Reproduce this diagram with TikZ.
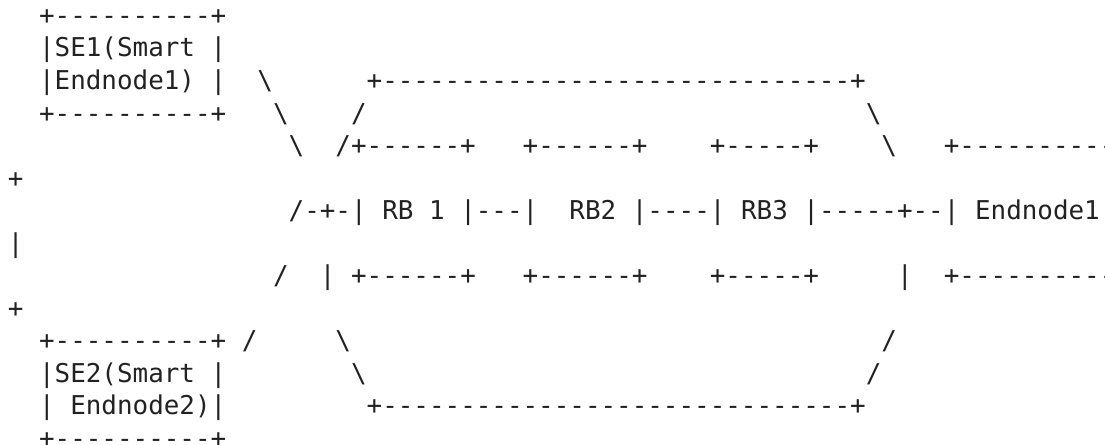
\documentclass[tikz,border=0pt]{standalone}
\usepackage{fontspec}
\setmonofont{DejaVu Sans Mono}
\definecolor{ink}{HTML}{222222}

\begin{document}
\begin{tikzpicture}[x=11.7pt,y=-24.409pt,
  asc/.style={anchor=base west,inner sep=0pt,outer sep=0pt,text=ink,
    font=\ttfamily\fontsize{19.43pt}{24.4pt}\selectfont}]
\useasboundingbox (-0.506,0.2487) rectangle (70.33,13.922);

\node (seonetop) at (2,1) [asc] {+----------+};
\node (seonea) at (2,2) [asc] {|SE1(Smart\ |};
\node (seoneb) at (2,3) [asc] {|Endnode1)\ |};
\node (seonebot) at (2,4) [asc] {+----------+};

\node (upa) at (16,3) [asc] {\textbackslash};
\node (upb) at (17,4) [asc] {\textbackslash};
\node (upc) at (18,5) [asc] {\textbackslash};
\node (upd) at (18,7) [asc] {/-+-};

\node (toptop) at (23,3) [asc] {+------------------------------+};
\node (topl) at (22,4) [asc] {/};
\node (topr) at (55,4) [asc] {\textbackslash};
\node (toprr) at (56,5) [asc] {\textbackslash};

\node (rbonetop) at (21,5) [asc] {/+------+};
\node (rbtwotop) at (33,5) [asc] {+------+};
\node (rbthreetop) at (45,5) [asc] {+-----+};
\node (endonetop) at (60,5) [asc] {+----------};

\node (wrapa) at (0,6) [asc] {+};

\node (rbone) at (22,7) [asc] {|\ RB\ 1\ |};
\node (linkab) at (30,7) [asc] {---};
\node (rbtwo) at (33,7) [asc] {|\ \ RB2\ |};
\node (linkbc) at (41,7) [asc] {----};
\node (rbthree) at (45,7) [asc] {|\ RB3\ |};
\node (linkce) at (52,7) [asc] {-----+--};
\node (endone) at (60,7) [asc] {|\ Endnode1};

\node (wrapb) at (0,8) [asc] {|};

\node (lowa) at (17,9) [asc] {/};
\node (lowb) at (20,9) [asc] {|};
\node (rbonebot) at (22,9) [asc] {+------+};
\node (rbtwobot) at (33,9) [asc] {+------+};
\node (rbthreebot) at (45,9) [asc] {+-----+};
\node (lowc) at (57,9) [asc] {|};
\node (endonebot) at (60,9) [asc] {+----------};

\node (wrapc) at (0,10) [asc] {+};

\node (setwotop) at (2,11) [asc] {+----------+};
\node (lowd) at (15,11) [asc] {/};
\node (botl) at (21,11) [asc] {\textbackslash};
\node (botr) at (56,11) [asc] {/};
\node (setwoa) at (2,12) [asc] {|SE2(Smart\ |};
\node (botll) at (22,12) [asc] {\textbackslash};
\node (botrr) at (55,12) [asc] {/};
\node (setwob) at (2,13) [asc] {|\ Endnode2)|};
\node (botbot) at (23,13) [asc] {+------------------------------+};
\node (setwobot) at (2,14) [asc] {+----------+};

\end{tikzpicture}
\end{document}
